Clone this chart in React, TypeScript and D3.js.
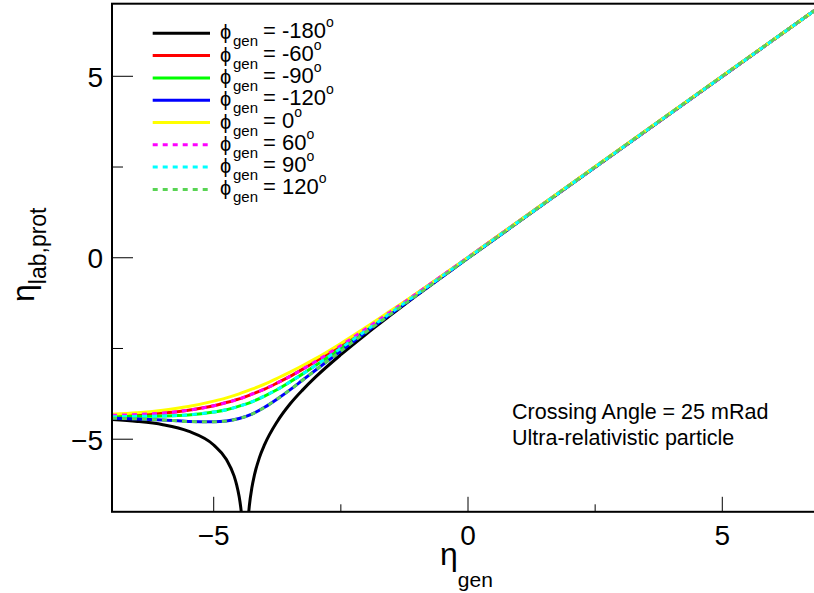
import React, { useRef, useEffect } from 'react'
import * as d3 from 'd3'

// eta_gen sample points for the smooth curves
const etaGen = [-7, -6.5, -6, -5.5, -5, -4.75, -4.5, -4.25, -4, -3.75, -3.5, -3.25, -3, -2.5, -2, -1.5, -1, 0, 7]

// eta_lab,prot per phi_gen group (+phi and -phi lie on top of each other)
const etaLabPhi0 = [-4.31, -4.27, -4.2, -4.1, -3.95, -3.86, -3.75, -3.62, -3.48, -3.32, -3.15, -2.97, -2.78, -2.36, -1.91, -1.44, -0.97, 0.01, 7]
const etaLabPhi60 = [-4.34, -4.32, -4.28, -4.2, -4.08, -3.99, -3.89, -3.76, -3.62, -3.45, -3.27, -3.07, -2.86, -2.42, -1.95, -1.47, -0.98, 0.01, 7]
const etaLabPhi90 = [-4.38, -4.37, -4.36, -4.33, -4.25, -4.19, -4.09, -3.97, -3.81, -3.63, -3.42, -3.2, -2.97, -2.49, -2, -1.5, -1, 0, 7]
const etaLabPhi120 = [-4.42, -4.44, -4.47, -4.51, -4.52, -4.5, -4.43, -4.31, -4.12, -3.89, -3.64, -3.37, -3.1, -2.57, -2.04, -1.53, -1.02, -0.01, 7]

// phi_gen = -180 runs into a pole near eta_gen = -4.38, so two branches
const etaGenPoleLeft = [-7, -6.5, -6, -5.5, -5, -4.75, -4.6, -4.55, -4.5, -4.47, -4.45]
const etaLabPoleLeft = [-4.46, -4.51, -4.6, -4.78, -5.16, -5.56, -6.01, -6.25, -6.58, -6.86, -7.11]
const etaGenPoleRight = [-4.32, -4.3, -4.25, -4.2, -4.1, -4, -3.75, -3.5, -3.25, -3, -2.5, -2, -1.5, -1, 0, 7]
const etaLabPoleRight = [-7.13, -6.84, -6.34, -5.99, -5.5, -5.15, -4.51, -4.03, -3.64, -3.29, -2.67, -2.1, -1.56, -1.03, -0.01, 7]

const legendLabels = ['-180', '-60', '-90', '-120', '0', '60', '90', '120']
const majorTicks = [-5, 0, 5]
const minorTicks = [-2.5, 2.5]

const WIDTH = 814
const HEIGHT = 593
const FONT = 'Liberation Sans, Arial, Helvetica, sans-serif'

const App = () => {
  const svgRef = useRef(null)

  useEffect(() => {
    const svg = d3.select(svgRef.current)
    svg.selectAll('*').remove()

    const x = d3.scaleLinear().domain([-7, 7]).range([112, 824])
    const y = d3.scaleLinear().domain([-7, 7]).range([511.8, 3.7])

    const zip = (xs, ys) => xs.map((v, i) => [v, ys[i]])
    const line = d3
      .line()
      .x(d => x(d[0]))
      .y(d => y(d[1]))
      .curve(d3.curveMonotoneX)

    // legend order = draw order
    const series = [
      { color: '#000000', dash: null, parts: [zip(etaGenPoleLeft, etaLabPoleLeft), zip(etaGenPoleRight, etaLabPoleRight)] },
      { color: '#ff0000', dash: null, parts: [zip(etaGen, etaLabPhi60)] },
      { color: '#00ff00', dash: null, parts: [zip(etaGen, etaLabPhi90)] },
      { color: '#0000ff', dash: null, parts: [zip(etaGen, etaLabPhi120)] },
      { color: '#ffff00', dash: null, parts: [zip(etaGen, etaLabPhi0)] },
      { color: '#ff00ff', dash: '5,5', parts: [zip(etaGen, etaLabPhi60)] },
      { color: '#00ffff', dash: '5,5', parts: [zip(etaGen, etaLabPhi90)] },
      { color: '#59d454', dash: '5,5', parts: [zip(etaGen, etaLabPhi120)] }
    ]

    svg
      .append('clipPath')
      .attr('id', 'frame-clip')
      .append('rect')
      .attr('x', x(-7))
      .attr('y', y(7))
      .attr('width', x(7) - x(-7))
      .attr('height', y(-7) - y(7))

    const plot = svg.append('g').attr('clip-path', 'url(#frame-clip)')
    series.forEach(s => {
      s.parts.forEach(p => {
        plot
          .append('path')
          .attr('d', line(p))
          .attr('fill', 'none')
          .attr('stroke', s.color)
          .attr('stroke-width', 3)
          .attr('stroke-dasharray', s.dash)
      })
    })

    // ticks
    const ticks = svg.append('g').attr('stroke', '#000').attr('stroke-width', 1)
    majorTicks.concat(minorTicks).forEach(t => {
      const major = majorTicks.includes(t)
      ticks
        .append('line')
        .attr('x1', x(t))
        .attr('x2', x(t))
        .attr('y1', y(-7))
        .attr('y2', y(-7) - (major ? 15 : 7.5))
      ticks
        .append('line')
        .attr('x1', x(-7))
        .attr('x2', x(-7) + (major ? 21 : 11))
        .attr('y1', y(t))
        .attr('y2', y(t))
    })

    // frame
    svg
      .append('rect')
      .attr('x', x(-7))
      .attr('y', y(7))
      .attr('width', x(7) - x(-7))
      .attr('height', y(-7) - y(7))
      .attr('fill', 'none')
      .attr('stroke', '#000')
      .attr('stroke-width', 2)

    const fmt = d3.format('d')
    const labels = svg.append('g').attr('font-family', FONT).attr('font-size', 28)
    majorTicks.forEach(t => {
      labels
        .append('text')
        .attr('x', x(t))
        .attr('y', 545)
        .attr('text-anchor', 'middle')
        .text(fmt(t))
      labels
        .append('text')
        .attr('x', 103)
        .attr('y', y(t) + 10.5)
        .attr('text-anchor', 'end')
        .text(fmt(t))
    })

    // axis titles
    const xTitle = svg.append('text').attr('font-family', FONT).attr('x', 440).attr('y', 565)
    xTitle.append('tspan').attr('font-size', 32).text('η')
    xTitle.append('tspan').attr('font-size', 21).attr('dy', 22).text('gen')

    const yTitle = svg
      .append('text')
      .attr('font-family', FONT)
      .attr('transform', 'translate(34,302) rotate(-90)')
    yTitle.append('tspan').attr('font-size', 32).text('η')
    yTitle.append('tspan').attr('font-size', 23).attr('dy', 12).text('lab,prot')

    // legend
    const legend = svg.append('g').attr('font-family', FONT)
    legendLabels.forEach((lab, i) => {
      const s = series[i]
      const ry = 33.3 + i * 22.3
      legend
        .append('line')
        .attr('x1', 152.7)
        .attr('x2', 210)
        .attr('y1', ry)
        .attr('y2', ry)
        .attr('stroke', s.color)
        .attr('stroke-width', 3)
        .attr('stroke-dasharray', s.dash)
      legend.append('text').attr('x', 220).attr('y', ry + 6).attr('font-size', 20).text('ϕ')
      legend.append('text').attr('x', 233).attr('y', ry + 13).attr('font-size', 15).text('gen')
      const t = legend.append('text').attr('x', 263).attr('y', ry + 5).attr('font-size', 22)
      t.append('tspan').text(`= ${lab}`)
      t.append('tspan').attr('font-size', 14).attr('dy', -11).text('o')
    })

    // annotation
    const note = svg.append('g').attr('font-family', FONT).attr('font-size', 21.5)
    note.append('text').attr('x', 512).attr('y', 419).text('Crossing Angle = 25 mRad')
    note.append('text').attr('x', 512).attr('y', 445).text('Ultra-relativistic particle')
  }, [])

  return (
    <svg
      ref={svgRef}
      width={WIDTH}
      height={HEIGHT}
      viewBox={`0,0,${WIDTH},${HEIGHT}`}
      style={{ position: 'absolute', left: 0, top: 0, background: '#fff' }}
    />
  )
}

export default App
